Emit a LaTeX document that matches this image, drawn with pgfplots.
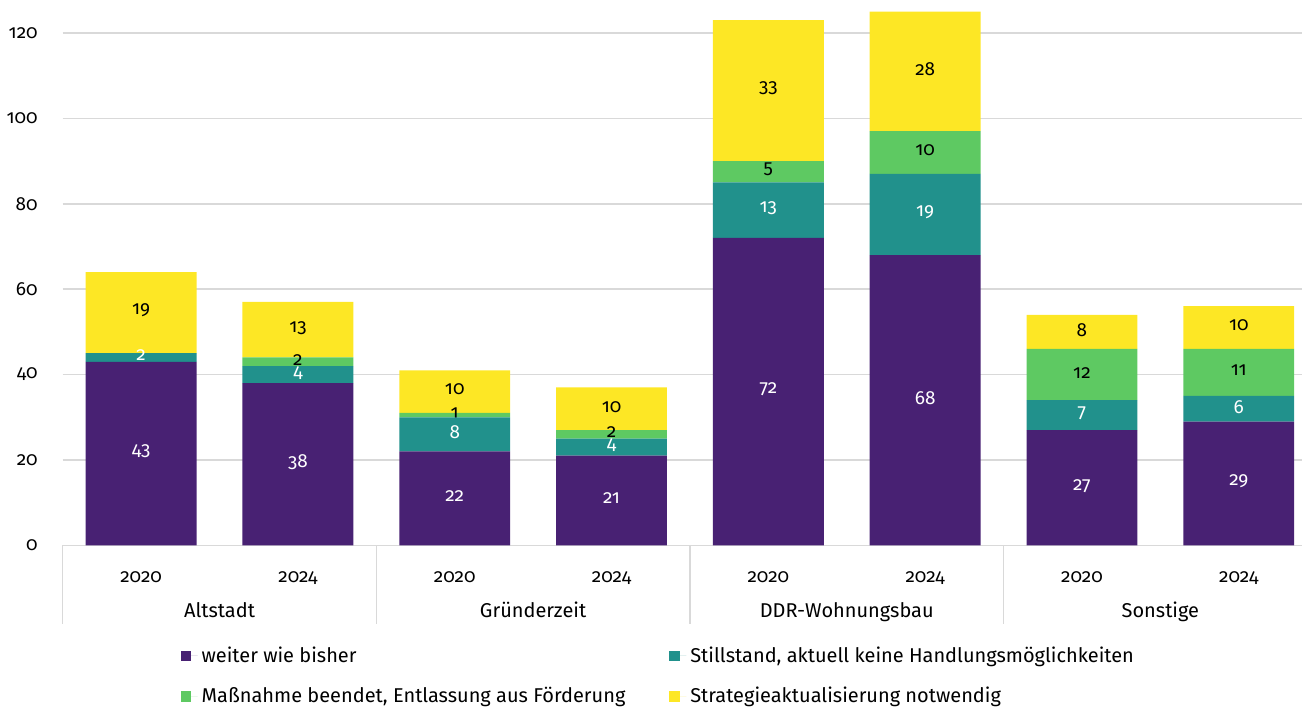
\documentclass[border=0pt]{standalone}
\usepackage{pgfplots}
\pgfplotsset{compat=1.18}
\usepackage{fontspec}
\setmainfont{Fira Sans}[Numbers=OldStyle]

\definecolor{cpurple}{HTML}{482173}
\definecolor{cteal}{HTML}{21918C}
\definecolor{cgreen}{HTML}{5EC962}
\definecolor{cyellow}{HTML}{FDE725}
\definecolor{cgrid}{HTML}{D9D9D9}

\begin{document}
\begin{tikzpicture}
\begin{axis}[
    scale only axis,
    width=620.5pt, height=273pt,
    ybar stacked,
    bar width=55.5pt,
    xmin=-0.5, xmax=7.405,
    ymin=0, ymax=127.72,
    clip mode=individual,
    xtick={0,...,7},
    xticklabels={2020,2024,2020,2024,2020,2024,2020,2024},
    ytick={0,20,...,120},
    axis x line*=bottom, axis y line*=left,
    x axis line style={cgrid, line width=0.75pt},
    y axis line style={draw=none},
    tick style={draw=none},
    ymajorgrids,
    grid style={cgrid, line width=0.75pt},
    /pgf/number format/assume math mode=true,
    tick label style={font=\fontsize{9.5}{11}\selectfont},
    xticklabel style={anchor=base, yshift=-18.5pt},
    yticklabel style={xshift=-9pt},
    point meta=explicit symbolic,
    nodes near coords={\ifdim\pgfplotspointmeta pt=0pt\else\pgfplotspointmeta\fi},
    nodes near coords align=center,
    every node near coord/.append style={anchor=center,
        font=\fontsize{9.5}{11}\selectfont, yshift=1pt},
    legend style={at={(0.09,-0.17)}, anchor=north west, draw=none,
        font=\fontsize{10}{12}\selectfont, row sep=7pt,
        cells={anchor=west},
        /tikz/column 2/.style={column sep=20pt}},
    legend columns=2,
    legend image code/.code={\fill[#1] (0pt,-2.6pt) rectangle (5.2pt,2.6pt);
        \path (5.2pt,0pt) -- (8.5pt,0pt);},
]
\addplot[fill=cpurple, draw=none, every node near coord/.append style={text=white}]
    coordinates {(0,43)[43] (1,38)[38] (2,22)[22] (3,21)[21] (4,72)[72] (5,68)[68] (6,27)[27] (7,29)[29]};
\addplot[fill=cteal, draw=none, every node near coord/.append style={text=white}]
    coordinates {(0,2)[2] (1,4)[4] (2,8)[8] (3,4)[4] (4,13)[13] (5,19)[19] (6,7)[7] (7,6)[6]};
\addplot[fill=cgreen, draw=none, every node near coord/.append style={text=black}]
    coordinates {(0,0)[0] (1,2)[2] (2,1)[1] (3,2)[2] (4,5)[5] (5,10)[10] (6,12)[12] (7,11)[11]};
\addplot[fill=cyellow, draw=none, every node near coord/.append style={text=black}]
    coordinates {(0,19)[19] (1,13)[13] (2,10)[10] (3,10)[10] (4,33)[33] (5,28)[28] (6,8)[8] (7,10)[10]};
\legend{weiter wie bisher, {Stillstand, aktuell keine Handlungsmöglichkeiten},
    {Maßnahme beendet, Entlassung aus Förderung}, Strategieaktualisierung notwendig}

\pgfplotsinvokeforeach{-0.5,1.5,3.5,5.5}{
    \draw[cgrid, line width=0.75pt] (axis cs:#1,0) -- ++(0pt,-39.5pt);
}
\node[anchor=base, font=\fontsize{10}{12}\selectfont] at (axis cs:0.5,0) [yshift=-36pt] {Altstadt};
\node[anchor=base, font=\fontsize{10}{12}\selectfont] at (axis cs:2.5,0) [yshift=-36pt] {Gründerzeit};
\node[anchor=base, font=\fontsize{10}{12}\selectfont] at (axis cs:4.5,0) [yshift=-36pt] {DDR-Wohnungsbau};
\node[anchor=base, font=\fontsize{10}{12}\selectfont] at (axis cs:6.5,0) [yshift=-36pt] {Sonstige};
\coordinate (bl) at (rel axis cs:0,0);
\end{axis}
\path (bl) ++(-31pt,-79.5pt);
\end{tikzpicture}
\end{document}
